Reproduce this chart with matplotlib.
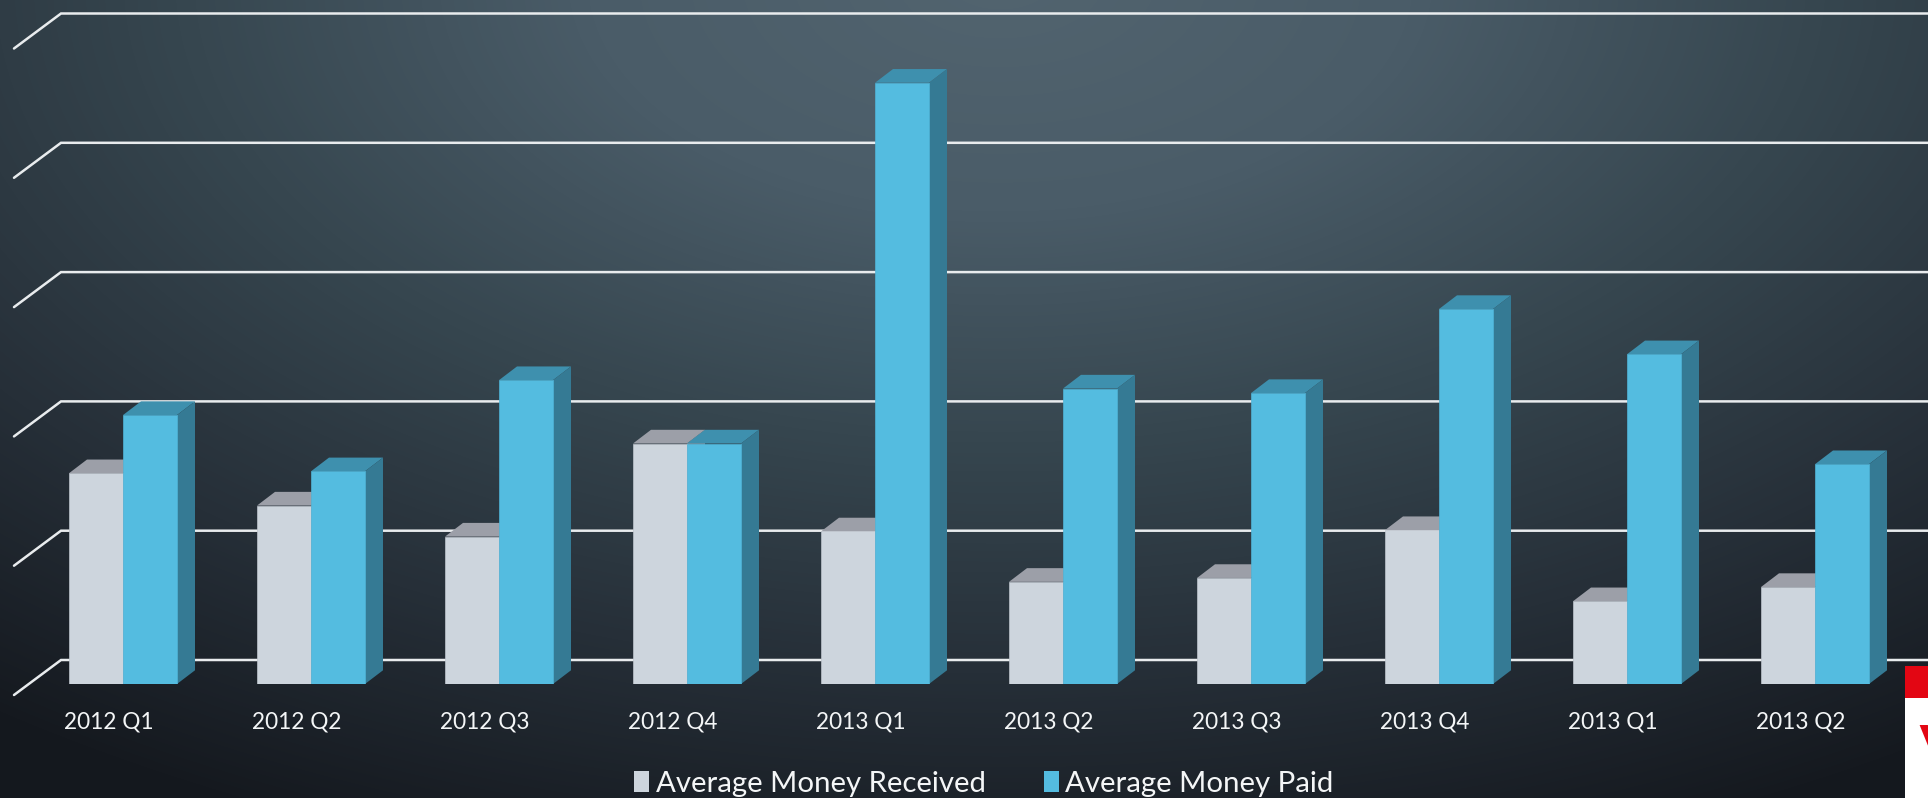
import matplotlib
matplotlib.use('Agg')
import matplotlib.pyplot as plt
import numpy as np
from matplotlib.colors import LinearSegmentedColormap
from matplotlib.patches import Patch, Rectangle

# data, one grid step = 100 (the chart has no value axis)
quarters = ['2012 Q1', '2012 Q2', '2012 Q3', '2012 Q4', '2013 Q1',
            '2013 Q2', '2013 Q3', '2013 Q4', '2013 Q1', '2013 Q2']
received = [163, 138, 114, 186, 118, 79, 82, 119, 64, 75]
paid = [208, 164.5, 235, 186, 465, 228.5, 225, 290, 255, 170]
grid_values = [0, 100, 200, 300, 400, 500]

W, H = 1928, 798
BASE_PX = 684       # pixel row of the bar baseline
STEP_X = 188.0      # pixels between groups
STEP_Y = 1.293      # pixels per value unit
FIRST_X = 123.0     # pixel column of the first group centre

plt.rcParams['font.family'] = ['Lato', 'DejaVu Sans']
fig = plt.figure(figsize=(W / 100, H / 100), dpi=100)

# background gradient
bg = fig.add_axes([0, 0, 1, 1], zorder=0)
yy, xx = np.mgrid[0:H, 0:W]
r = np.sqrt(((xx - 1000) / 1500.0) ** 2 + ((yy + 20) / 840.0) ** 2)
cmap = LinearSegmentedColormap.from_list(
    'bg', [(0, '#52646F'), (0.25, '#4A5C68'), (0.5, '#36464F'),
           (0.75, '#262F38'), (1, '#15191F')])
bg.imshow(np.clip(r / 1.1, 0, 1), cmap=cmap, vmin=0, vmax=1, aspect='auto')
bg.axis('off')

# main axes: bottom edge sits on the baseline
ax = fig.add_axes([0, 1 - BASE_PX / H, 1, BASE_PX / H], zorder=1)
ax.patch.set_alpha(0)
ax.set_xlim(-FIRST_X / STEP_X, (W - FIRST_X) / STEP_X)
ax.set_ylim(0, BASE_PX / STEP_Y)
for s in ax.spines.values():
    s.set_visible(False)
ax.set_yticks([])

dx = 18 / STEP_X    # bar depth
dy = 13.7 / STEP_Y
bw = 54 / STEP_X    # bar width
x = np.arange(len(quarters))

# gridlines: floor diagonal then back wall
wall_x = (61 - FIRST_X) / STEP_X
front_x = (14 - FIRST_X) / STEP_X
for v in grid_values:
    back = v + 24 / STEP_Y
    front = v - 11 / STEP_Y
    ax.plot([front_x, wall_x, ax.get_xlim()[1]], [front, back, back],
            color='#E9ECEE', lw=1.8, clip_on=False, zorder=1,
            solid_capstyle='round', solid_joinstyle='miter')


def bars3d(xs, vals, front, top, side, edge, z):
    ax.bar(xs, vals, bw, color=front, edgecolor=edge, linewidth=0.5, zorder=z + 1)
    for xc, v in zip(xs, vals):
        l, rt = xc - bw / 2, xc + bw / 2
        ax.fill([l, l + dx, rt + dx, rt], [v, v + dy, v + dy, v],
                color=top, lw=0, zorder=z)
        ax.fill([rt, rt + dx, rt + dx, rt], [0, dy, v + dy, v],
                color=side, lw=0, zorder=z)


bars3d(x - bw / 2, received, '#CDD5DD', '#9C9FA8', '#8A8F98', '#BDC4CC', 3)
bars3d(x + bw / 2, paid, '#54BCE0', '#3E90AE', '#357A94', '#4FB3D6', 5)

# labels sit a little left of the group centres
ax.set_xticks(x - 14 / STEP_X)
ax.set_xticklabels(quarters, color='#F4F6F7', fontsize=16.3)
ax.tick_params(axis='x', length=0, pad=20)

handles = [Patch(facecolor='#CDD5DD', label='Average Money Received'),
           Patch(facecolor='#54BCE0', label='Average Money Paid')]
leg = fig.legend(handles=handles, loc='lower left', ncol=2, frameon=False,
                 bbox_to_anchor=(634 / W, 1 / H), borderaxespad=0, borderpad=0,
                 handlelength=0.52, handleheight=0.72, handletextpad=0.22,
                 columnspacing=1.96, labelcolor='#F4F6F7', fontsize=21.2)

# logo corner, cut by the frame
fig.add_artist(Rectangle((1905 / W, 0), 23 / W, 1 - 666 / H, transform=fig.transFigure,
                         facecolor='white', edgecolor='none', zorder=5))
fig.add_artist(Rectangle((1905 / W, 1 - 698 / H), 23 / W, 32 / H, transform=fig.transFigure,
                         facecolor='#E30613', edgecolor='none', zorder=6))
fig.text(1919 / W, 1 - 724 / H, 'V', color='#E30613', fontsize=50, fontweight='bold',
         ha='left', va='top', zorder=7)

fig.savefig('out.png', dpi=100)
